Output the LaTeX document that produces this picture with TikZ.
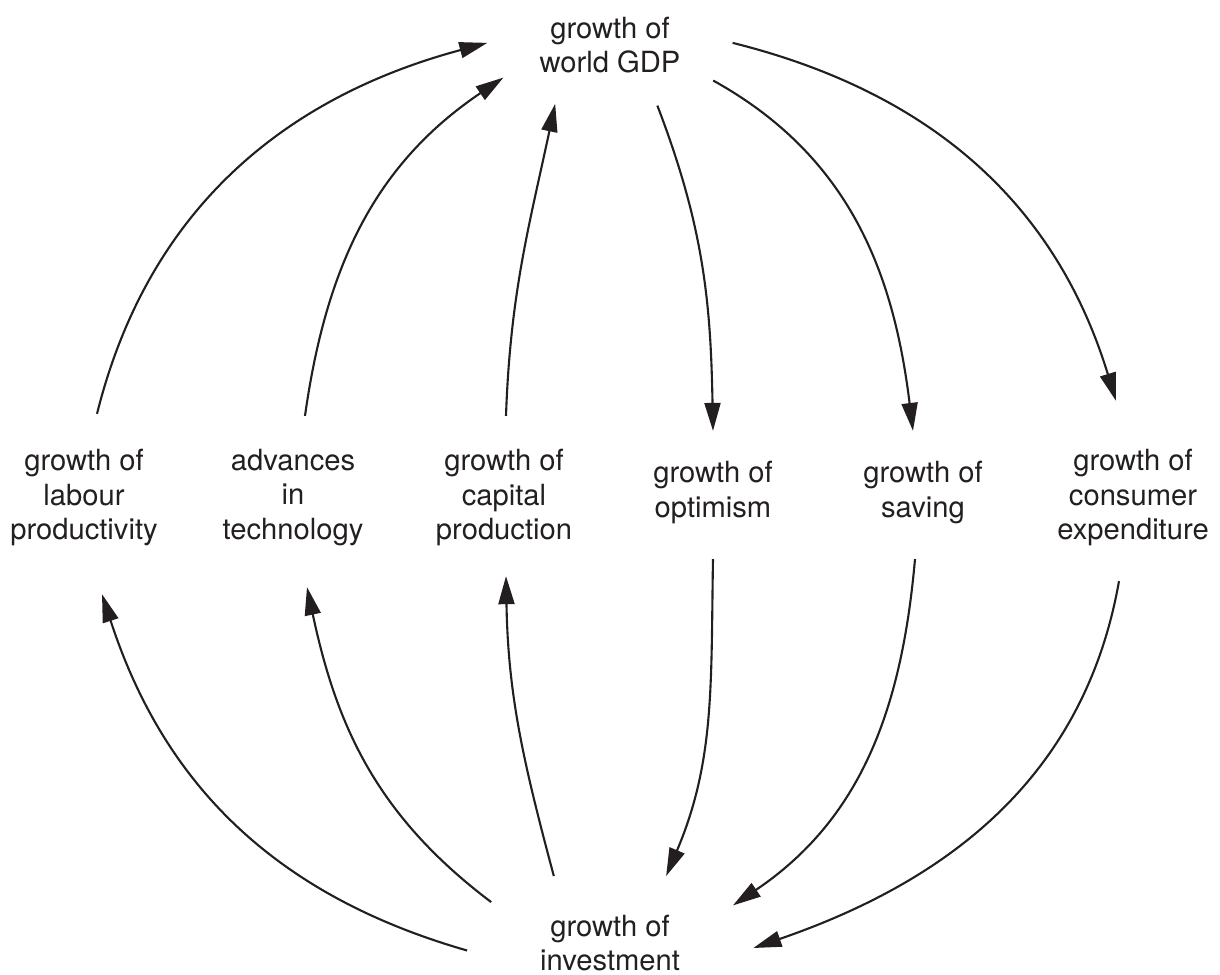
\documentclass[tikz,border=0pt]{standalone}
\usepackage{fontspec}
\setmainfont{TeX Gyre Heros}
\usetikzlibrary{arrows.meta,shapes.geometric}
\definecolor{ink}{RGB}{35,31,32}
\tikzset{
  factor/.style={align=center, inner xsep=1pt, inner ysep=0.3cm, text=ink,
    font=\fontsize{8.3}{9.7}\selectfont},
  hub/.style={ellipse, align=center, inner sep=0pt, text=ink,
    font=\fontsize{8.3}{9.7}\selectfont},
  link/.style={draw=ink, line width=0.6pt, -{Triangle[length=2.8mm,width=1.6mm]}}
}

\begin{document}
\begin{tikzpicture}
 \useasboundingbox (0,0) rectangle (12.2,-9.75);

 \node[hub, minimum width=2.44cm, minimum height=1.3cm] (gdp) at (6.1,-0.45) {growth of\\world GDP};
 \node[hub, minimum width=2.86cm, minimum height=1.44cm] (inv) at (6.1,-9.43) {growth of\\investment};

 \node[factor] (lab) at (0.84,-4.975) {growth of\\labour\\productivity};
 \node[factor] (tec) at (2.93,-4.975) {advances\\in\\technology};
 \node[factor] (cap) at (5.04,-4.975) {growth of\\capital\\production};
 \node[factor] (opt) at (7.13,-4.925) {growth of\\optimism};
 \node[factor] (sav) at (9.23,-4.925) {growth of\\saving};
 \node[factor] (con) at (11.33,-4.975) {growth of\\consumer\\expenditure};

 % upper half
 \draw[link] ([shift={(0.13,0.05)}]lab.north) to[out=76,in=195] (gdp.179);
 \draw[link] ([shift={(0.12,0.03)}]tec.north) to[out=82,in=214] (gdp.197);
 \draw[link] ([shift={(0.02,0.03)}]cap.north) to[out=88,in=258] (gdp.227);
 \draw[link] (gdp.308) to[out=-69,in=91] (opt.north);
 \draw[link] (gdp.341) to[out=-29,in=97] ([xshift=-0.1cm]sav.north);
 \draw[link] (gdp.1.5) to[out=-14,in=107] ([shift={(-0.17,0.18)}]con.north);

 % lower half
 \draw[link] ([yshift=-0.05cm]opt.south) to[out=-91,in=67] (inv.50);
 \draw[link] ([shift={(-0.08,-0.05)}]sav.south) to[out=-95,in=34] (inv.17);
 \draw[link] ([shift={(-0.14,-0.05)}]con.south) to[out=-100,in=19] (inv.358);
 \draw[link] (inv.183) to[out=164,in=288] ([shift={(0.18,-0.18)}]lab.south);
 \draw[link] (inv.161) to[out=143,in=282] ([shift={(0.14,-0.11)}]tec.south);
 \draw[link] (inv.130) to[out=105,in=271] ([xshift=0.02cm]cap.south);

\end{tikzpicture}
\end{document}
